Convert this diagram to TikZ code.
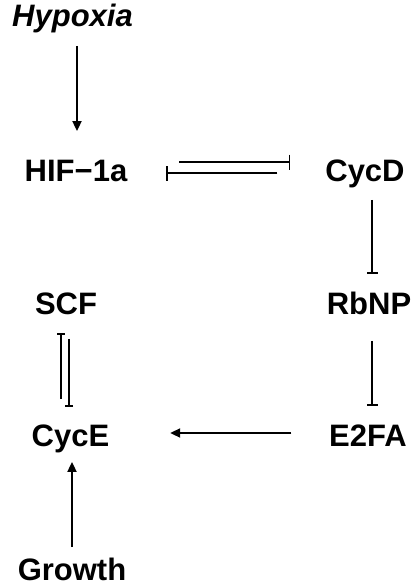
\documentclass[tikz,border=0pt]{standalone}
\usepackage{fontspec}
\setmainfont{Liberation Sans}
\usetikzlibrary{arrows.meta}

\begin{document}
\begin{tikzpicture}[x=1pt,y=1pt,>={Triangle[width=9pt,length=10pt]},line width=1.8pt,
        gene/.style={font=\fontsize{31}{31}\selectfont\bfseries,inner sep=0pt,
                     text height=22pt,text depth=0pt},
        inh/.style={-{Bar[width=#1,line width=1.8pt]}},inh/.default=11pt]

    \useasboundingbox (0,0) rectangle (410,-586);

    \node[gene] (hif) at (76,-170) {HIF−1a};
    \node[gene] (hyp) [above of=hif, node distance=154pt, xshift=-3.5pt] {\itshape Hypoxia};
    \node[gene] (cycd) [right of=hif, node distance=289pt] {CycD};
    \node[gene] (rbnp) [below of=cycd, node distance=133pt, xshift=4pt] {RbNP};
    \node[gene] (e2fa) [below of=rbnp, node distance=132pt, xshift=-1pt] {E2FA};
    \node[gene] (cyce) [left of=e2fa, node distance=297.5pt] {CycE};
    \node[gene] (scf) [above of=cyce, node distance=132pt, xshift=-4.5pt] {SCF};
    \node[gene] (gro) [below of=cyce, node distance=134pt, xshift=1.5pt] {Growth};

    \draw[->] ([xshift=4.5pt,yshift=-18pt]hyp.south) -- ([xshift=1pt,yshift=27pt]hif.north);
    % mutual inhibition
    \draw[inh=15pt,shorten <=51pt,shorten >=34pt] ([yshift=8pt]hif.east) -- ([yshift=8pt]cycd.west);
    \draw[inh=15pt,shorten <=47pt,shorten >=38pt] ([yshift=-3pt]cycd.west) -- ([yshift=-3pt]hif.east);
    \draw[inh] ([xshift=7pt,yshift=-18pt]cycd.south) -- ([xshift=3pt,yshift=17pt]rbnp.north);
    \draw[inh] ([xshift=3pt,yshift=-26pt]rbnp.south) -- ([xshift=4pt,yshift=17pt]e2fa.north);
    \draw[->] ([xshift=-37pt,yshift=2pt]e2fa.west) -- ([xshift=60pt,yshift=2pt]cyce.east);
    \draw[inh=8pt] ([xshift=-9.5pt,yshift=24pt]cyce.north) -- ([xshift=-5pt,yshift=-18pt]scf.south);
    \draw[inh=8pt] ([xshift=3pt,yshift=-24pt]scf.south) -- ([xshift=-1.5pt,yshift=16pt]cyce.north);
    \draw[->] ([yshift=10pt]gro.north) -- ([xshift=1.5pt,yshift=-15pt]cyce.south);

\end{tikzpicture}
\end{document}
